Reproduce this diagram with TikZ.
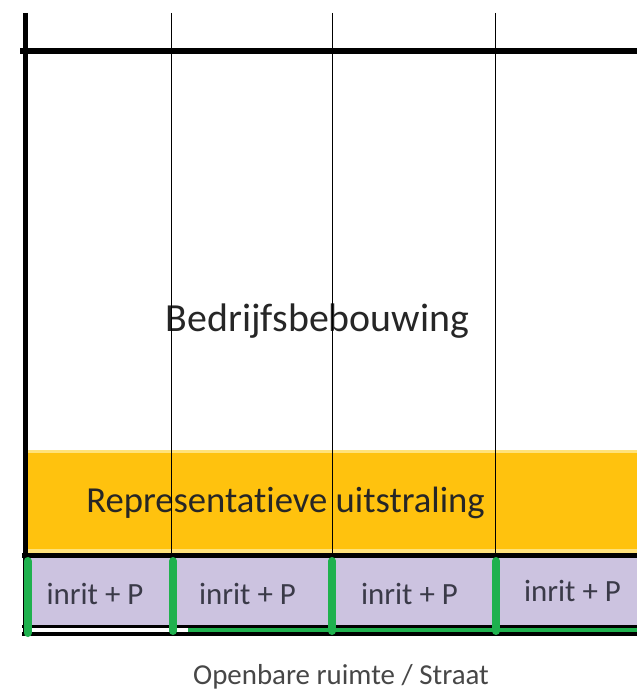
\documentclass[tikz,border=0pt]{standalone}
\usepackage{fontspec}
\setmainfont[Ligatures=NoCommon]{Carlito}
\definecolor{gold}{HTML}{FFC20E}
\definecolor{lightgold}{HTML}{FFE27A}
\definecolor{lav}{HTML}{CCC3E0}
\definecolor{grn}{HTML}{1FB14E}
\definecolor{txt}{HTML}{262626}
\definecolor{txtb}{HTML}{3A3A48}
\begin{document}
\begin{tikzpicture}[x=1bp,y=-1bp,
  thickline/.style={draw=black,line width=5bp},
  thinline/.style={draw=black,line width=1.3bp},
  greenpost/.style={draw=grn,line width=8bp,line cap=round},
  bigtext/.style={font=\fontsize{40}{44}\selectfont,text=txt,anchor=base,inner sep=0pt},
  midtext/.style={font=\fontsize{36.8}{40}\selectfont,text=txt,anchor=base,inner sep=0pt},
  celltext/.style={font=\fontsize{31}{34}\selectfont,text=txtb,anchor=base,inner sep=0pt},
  streettext/.style={font=\fontsize{29}{32}\selectfont,text=txt!85,anchor=base,inner sep=0pt}]
\useasboundingbox (0,0) rectangle (637,691);
\fill[white] (0,0) rectangle (637,691);
% bands
\fill[gold] (25,450) rectangle (637,553);
\fill[lightgold] (25,450) rectangle (637,453);
\fill[lightgold] (25,549) rectangle (637,553);
\fill[lav] (25,558) rectangle (637,625);
% texts
\node[bigtext] (bedrijf) at (317.5,331) {Bedrijfsbebouwing};
\node[midtext] (repr) at (285.5,512) {Representatieve uitstraling};
\node[celltext] (c1) at (95,604) {inrit + P};
\node[celltext] (c2) at (247.5,604) {inrit + P};
\node[celltext] (c3) at (409.5,604) {inrit + P};
\node[celltext] (c4) at (572.5,601) {inrit + P};
\node[streettext] (straat) at (341,684) {Openbare ruimte / Straat};
% lines
\draw[thinline] (171.5,13) -- (171.5,553);
\draw[thinline] (332.5,13) -- (332.5,553);
\draw[thinline] (495.5,13) -- (495.5,553);
\draw[thickline] (25.5,13) -- (25.5,635);
\draw[draw=black,line width=6bp] (20,51.5) -- (637,51.5);
\draw[draw=black,line width=4.5bp] (22,555.5) -- (637,555.5);
\draw[draw=black,line width=3bp] (22,626.5) -- (637,626.5);
\draw[draw=black,line width=3.5bp] (22,634) -- (637,634);
\draw[draw=grn,line width=4bp] (188,630) -- (637,630);
% green posts
\draw[greenpost] (27.5,561) -- (27.5,633);
\draw[greenpost] (173,561) -- (173,631);
\draw[greenpost] (332,561) -- (332,631);
\draw[greenpost] (496,561) -- (496,631);
\end{tikzpicture}
\end{document}
